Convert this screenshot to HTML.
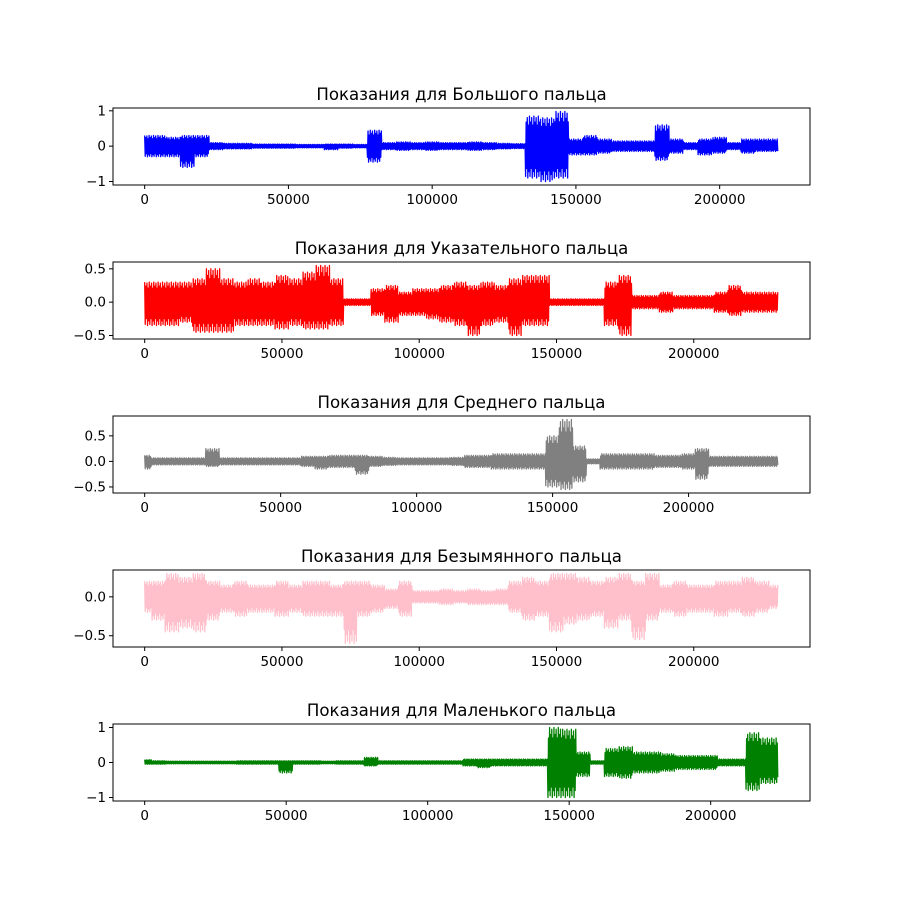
<!DOCTYPE html>
<html><head><meta charset="utf-8"><style>
body{margin:0;background:#fff}
svg text{font-family:"DejaVu Sans","Liberation Sans",sans-serif}
</style></head><body>
<svg id="fig" width="900" height="900" xmlns="http://www.w3.org/2000/svg"></svg>
<script>
// sample counts per finger
const lengths=[220400,230800,233000,230800,223900];
const binWidth=5000;
const titles=["Показания для Большого пальца","Показания для Указательного пальца","Показания для Среднего пальца","Показания для Безымянного пальца","Показания для Маленького пальца"];
const colors=["blue","red","gray","pink","green"];
const xTicks=[0,50000,100000,150000,200000];
const yTicks=[[-1,0,1],[-0.5,0,0.5],[-0.5,0,0.5],[-0.5,0],[-1,0,1]];
const yTickLabels=[["−1","0","1"],["−0.5","0.0","0.5"],["−0.5","0.0","0.5"],["−0.5","0.0"],["−1","0","1"]];
// envelopes (upper / lower), one value per 5000-sample bin centred at i*5000
const up0=[0.3,0.3,0.25,0.3,0.3,0.1,0.08,0.08,0.06,0.06,0.06,0.05,0.05,0.06,0.06,0.05,0.45,0.1,0.12,0.1,0.12,0.1,0.1,0.12,0.1,0.08,0.07,0.85,0.8,0.98,0.2,0.3,0.2,0.15,0.15,0.15,0.6,0.2,0.1,0.2,0.25,0.1,0.2,0.2];
const lo0=[-0.3,-0.3,-0.3,-0.6,-0.3,-0.1,-0.08,-0.08,-0.06,-0.06,-0.06,-0.05,-0.05,-0.1,-0.06,-0.05,-0.45,-0.1,-0.12,-0.1,-0.12,-0.1,-0.1,-0.12,-0.1,-0.08,-0.07,-0.9,-1.0,-0.9,-0.25,-0.25,-0.2,-0.15,-0.15,-0.15,-0.4,-0.2,-0.1,-0.25,-0.2,-0.1,-0.2,-0.15];
const up1=[0.3,0.3,0.3,0.3,0.35,0.5,0.35,0.3,0.35,0.3,0.4,0.35,0.45,0.55,0.35,0.05,0.05,0.2,0.25,0.15,0.2,0.2,0.25,0.3,0.25,0.3,0.25,0.35,0.4,0.4,0.05,0.05,0.05,0.05,0.3,0.4,0.1,0.1,0.15,0.1,0.1,0.1,0.15,0.25,0.15];
const lo1=[-0.35,-0.35,-0.35,-0.3,-0.45,-0.45,-0.45,-0.35,-0.35,-0.35,-0.4,-0.35,-0.4,-0.4,-0.35,-0.05,-0.05,-0.2,-0.3,-0.2,-0.2,-0.25,-0.3,-0.35,-0.5,-0.35,-0.3,-0.5,-0.35,-0.35,-0.05,-0.05,-0.05,-0.05,-0.35,-0.5,-0.1,-0.1,-0.15,-0.1,-0.1,-0.1,-0.15,-0.2,-0.15];
const up2=[0.12,0.07,0.07,0.07,0.07,0.25,0.07,0.07,0.07,0.07,0.07,0.07,0.1,0.1,0.12,0.12,0.12,0.1,0.08,0.07,0.07,0.07,0.07,0.08,0.12,0.12,0.15,0.15,0.15,0.15,0.5,0.82,0.3,0.05,0.15,0.15,0.15,0.15,0.12,0.12,0.15,0.25,0.1,0.1,0.1,0.1,0.1];
const lo2=[-0.15,-0.07,-0.07,-0.07,-0.07,-0.1,-0.07,-0.07,-0.07,-0.07,-0.07,-0.07,-0.1,-0.15,-0.12,-0.12,-0.25,-0.1,-0.08,-0.07,-0.07,-0.07,-0.07,-0.08,-0.12,-0.12,-0.15,-0.15,-0.15,-0.15,-0.5,-0.55,-0.4,-0.05,-0.15,-0.15,-0.15,-0.15,-0.12,-0.12,-0.15,-0.35,-0.1,-0.1,-0.1,-0.1,-0.1];
const up3=[0.2,0.2,0.3,0.25,0.3,0.2,0.15,0.2,0.15,0.15,0.2,0.15,0.2,0.2,0.15,0.2,0.2,0.15,0.1,0.2,0.08,0.08,0.1,0.08,0.1,0.08,0.1,0.2,0.25,0.2,0.3,0.3,0.25,0.2,0.25,0.3,0.2,0.3,0.15,0.2,0.15,0.15,0.2,0.2,0.25,0.2,0.15];
const lo3=[-0.2,-0.3,-0.45,-0.4,-0.45,-0.3,-0.2,-0.25,-0.2,-0.2,-0.25,-0.2,-0.25,-0.25,-0.25,-0.6,-0.25,-0.2,-0.15,-0.25,-0.08,-0.08,-0.1,-0.08,-0.1,-0.1,-0.1,-0.2,-0.3,-0.25,-0.45,-0.35,-0.3,-0.25,-0.4,-0.3,-0.55,-0.3,-0.2,-0.25,-0.2,-0.2,-0.25,-0.2,-0.25,-0.2,-0.15];
const up4=[0.08,0.05,0.04,0.04,0.04,0.04,0.04,0.05,0.05,0.05,0.05,0.05,0.05,0.04,0.05,0.05,0.15,0.05,0.05,0.05,0.05,0.05,0.05,0.1,0.1,0.1,0.1,0.1,0.1,1.0,0.95,0.3,0.05,0.4,0.45,0.3,0.3,0.25,0.2,0.2,0.2,0.1,0.1,0.85,0.7];
const lo4=[-0.05,-0.05,-0.04,-0.04,-0.04,-0.04,-0.04,-0.05,-0.05,-0.05,-0.3,-0.05,-0.05,-0.04,-0.05,-0.05,-0.1,-0.05,-0.05,-0.05,-0.05,-0.05,-0.05,-0.1,-0.15,-0.1,-0.1,-0.1,-0.1,-1.0,-1.0,-0.4,-0.05,-0.4,-0.45,-0.3,-0.3,-0.25,-0.2,-0.2,-0.2,-0.1,-0.1,-0.8,-0.6];
const ups=[up0,up1,up2,up3,up4], los=[lo0,lo1,lo2,lo3,lo4];
const NS="http://www.w3.org/2000/svg";
const svg=document.getElementById('fig');
function mk(tag,attrs,parent){const e=document.createElementNS(NS,tag);for(const k in attrs)e.setAttribute(k,attrs[k]);(parent||svg).appendChild(e);return e;}
const L=113,R=810,tops=[108,262,416,570,724],H=77;
const pattern=[1,0.45,0.8,0.3,0.95,0.6,0.7,0.4];
for(let p=0;p<5;p++){
  const g=mk('g',{});
  
  
  const N=lengths[p],up=ups[p],lo=los[p];
  const x0=-0.05*N,x1=1.05*N;
  const ymax=Math.max(...up),ymin=Math.min(...lo),r=ymax-ymin;
  const y0=ymin-0.05*r,y1=ymax+0.05*r;
  const T=tops[p];
  const X=v=>L+(v-x0)/(x1-x0)*(R-L);
  const Y=v=>T+H-(v-y0)/(y1-y0)*H;
  const n=up.length;
  const xEnd=X(N);
  let d='',first=true,c=0;
  for(let i=0;i<n;i++){
    const xa=Math.max(X(0),X(i*binWidth-binWidth/2));
    const xb=(i===n-1)?xEnd:Math.min(xEnd,X(i*binWidth+binWidth/2));
    const steps=Math.max(2,Math.round((xb-xa)/0.55));
    for(let k=0;k<steps;k++){
      const x=xa+(xb-xa)*k/steps;
      const f=pattern[c%pattern.length];
      const v=(c%2===0)?up[i]*f:lo[i]*pattern[(c+3)%pattern.length];
      c++;
      d+=(first?'M':'L')+x.toFixed(2)+','+Y(v).toFixed(2);first=false;
    }
  }
  const s=mk('path',{d:d,fill:'none',stroke:colors[p],'stroke-width':1.3,'stroke-linejoin':'round'},g);
  
  
  const fr=mk('rect',{x:L,y:T,width:R-L,height:H,fill:'none',stroke:'#000','stroke-width':1},g);
  
  
  const t=mk('text',{x:(L+R)/2,y:T-8,'text-anchor':'middle','font-size':16.6},g);
  t.textContent=titles[p];
  
  
  xTicks.forEach(v=>{const x=X(v);mk('line',{x1:x,x2:x,y1:T+H,y2:T+H+4,stroke:'#000'},g);
    const tl=mk('text',{x:x,y:T+H+19,'text-anchor':'middle','font-size':13.5},g);tl.textContent=String(v);
    
    });
  yTicks[p].forEach((v,i)=>{const y=Y(v);mk('line',{x1:L-4,x2:L,y1:y,y2:y,stroke:'#000'},g);
    const tl=mk('text',{x:L-7,y:y+4.5,'text-anchor':'end','font-size':13.5},g);tl.textContent=yTickLabels[p][i];
    
    });
}
</script>
</body></html>
